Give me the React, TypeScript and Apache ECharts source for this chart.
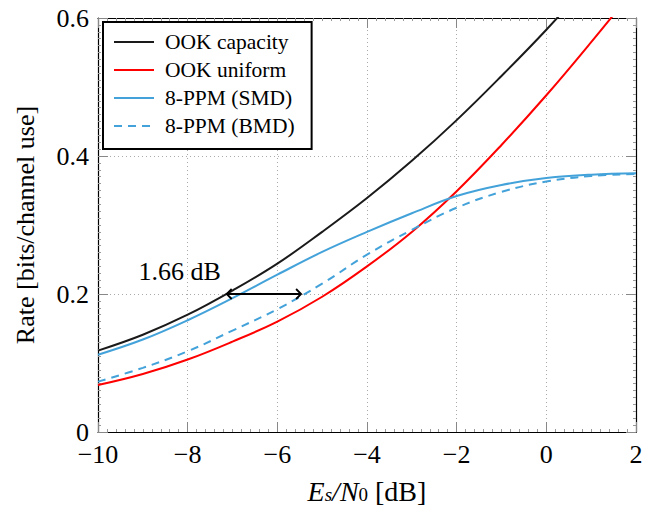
import React, { useEffect, useRef } from "react";
import * as echarts from "echarts";

// x positions (Es/N0 in dB)
const snrDb = [-10, -9, -8, -7, -6, -5, -4, -3, -2, -1, 0, 1, 2];
// series values (bits/channel use)
const ookCapacity = [0.118, 0.141, 0.17, 0.205, 0.244, 0.29, 0.339, 0.393, 0.452, 0.516, 0.583, 0.655, 0.73];
const ookUniform = [0.068, 0.084, 0.105, 0.131, 0.16, 0.196, 0.24, 0.29, 0.349, 0.416, 0.488, 0.565, 0.645];
const ppmSmd = [0.112, 0.134, 0.162, 0.194, 0.228, 0.261, 0.29, 0.317, 0.342, 0.358, 0.368, 0.373, 0.375];
const ppmBmd = [0.073, 0.093, 0.117, 0.147, 0.178, 0.215, 0.257, 0.293, 0.325, 0.348, 0.363, 0.371, 0.374];
const seriesNames = ["OOK capacity", "OOK uniform", "8-PPM (SMD)", "8-PPM (BMD)"];
const yTicks = [0, 0.2, 0.4, 0.6];
// annotation: arrow from, arrow level, arrow to, label x, label y
const gapArrow = [[-7.13, 0.2, -5.47, -8.18, 0.232]];
const gapLabel = "1.66 dB";

const FONT = "Liberation Serif";

const fmtX = (v: number) => (v < 0 ? "\u2212" + Math.abs(v) : String(v));

export default function App() {
  const ref = useRef<HTMLDivElement>(null);
  useEffect(() => {
    if (!ref.current) return;
    const chart = echarts.init(ref.current, undefined, { renderer: "svg" });
    const pair = (ys: number[]) => snrDb.map((x, i) => [x, ys[i]]);
    const axisLine = { show: true, onZero: false, lineStyle: { color: "#000", width: 1.2 } };
    const axisTick = { show: true, inside: true, length: 10, lineStyle: { color: "#888", width: 1 } };
    const minorTick = { show: true, length: 3, lineStyle: { color: "#999", width: 1 } };
    const gridLine = { show: true, lineStyle: { color: "#aaa", type: [1, 3], width: 1 } };
    const lineSeries = (name: string, ys: number[], color: string, dashed = false) => ({
      name,
      type: "line",
      data: pair(ys),
      smooth: 0.4,
      symbol: "none",
      clip: true,
      lineStyle: { color, width: 2, type: dashed ? [8, 6] : "solid" },
      itemStyle: { color },
    });
    const option: any = {
      animation: false,
      backgroundColor: "#fff",
      grid: { left: 98, right: 21, top: 18, bottom: 74, containLabel: false, outerBoundsMode: "none" },
      legend: {
        data: seriesNames,
        orient: "vertical",
        left: 103,
        top: 22,
        backgroundColor: "#fff",
        borderColor: "#000",
        borderWidth: 2,
        borderRadius: 0,
        padding: [9, 17, 12, 10],
        itemWidth: 40,
        itemHeight: 14,
        itemGap: 6,
        itemStyle: { opacity: 0 },
        textStyle: { fontFamily: FONT, fontSize: 21.5, color: "#000", lineHeight: 22, padding: [0, 0, 0, 6] },
      },
      xAxis: [
        {
          type: "value",
          min: -10,
          max: 2,
          interval: 2,
          position: "bottom",
          axisLine,
          axisTick,
          minorTick: { ...minorTick, splitNumber: 10 },
          splitLine: gridLine,
          axisLabel: { formatter: fmtX, fontFamily: FONT, fontSize: 26, lineHeight: 20, color: "#000", margin: 12 },
          name: "{i|E}{si|s}{i|/N}{s|0}{n| [dB]}",
          nameLocation: "middle",
          nameGap: 46,
          nameTextStyle: {
            fontFamily: FONT,
            color: "#000",
            rich: {
              i: { fontFamily: FONT, fontStyle: "italic", fontSize: 28, lineHeight: 26, color: "#000" },
              n: { fontFamily: FONT, fontSize: 28, lineHeight: 26, color: "#000" },
              si: { fontFamily: FONT, fontStyle: "italic", fontSize: 19, lineHeight: 13, verticalAlign: "bottom", color: "#000" },
              s: { fontFamily: FONT, fontSize: 19, lineHeight: 13, verticalAlign: "bottom", color: "#000" },
            },
          },
        },
        {
          type: "value",
          min: -10,
          max: 2,
          interval: 2,
          position: "top",
          axisLine,
          axisTick,
          minorTick: { ...minorTick, splitNumber: 10 },
          splitLine: { show: false },
          axisLabel: { show: false },
        },
      ],
      yAxis: [
        {
          type: "value",
          min: 0,
          max: 0.6,
          interval: 0.2,
          position: "left",
          axisLine,
          axisTick,
          minorTick: { ...minorTick, splitNumber: 20 },
          splitLine: gridLine,
          axisLabel: {
            fontFamily: FONT,
            fontSize: 26,
            lineHeight: 18,
            color: "#000",
            margin: 9,
            formatter: (v: number) => {
              const t = yTicks.find((k) => Math.abs(k - v) < 1e-9);
              return t === 0 ? "0" : String(+v.toFixed(1));
            },
          },
          name: "Rate [bits/channel use]",
          nameLocation: "middle",
          nameGap: 60,
          nameTextStyle: { fontFamily: FONT, fontSize: 26, color: "#000" },
        },
        {
          type: "value",
          min: 0,
          max: 0.6,
          interval: 0.2,
          position: "right",
          axisLine,
          axisTick,
          minorTick: { ...minorTick, splitNumber: 20 },
          splitLine: { show: false },
          axisLabel: { show: false },
        },
      ],
      series: [
        lineSeries(seriesNames[0], ookCapacity, "#1a1a1a"),
        lineSeries(seriesNames[1], ookUniform, "#ff0000"),
        lineSeries(seriesNames[2], ppmSmd, "#43a2d9"),
        lineSeries(seriesNames[3], ppmBmd, "#43a2d9", true),
        {
          type: "custom",
          data: gapArrow,
          silent: true,
          z: 10,
          encode: { x: [0, 2, 3], y: [1, 4] },
          renderItem: (params: any, api: any) => {
            const a = api.coord([api.value(0), api.value(1)]);
            const b = api.coord([api.value(2), api.value(1)]);
            const t = api.coord([api.value(3), api.value(4)]);
            const h = 5;
            const stroke = { stroke: "#000", lineWidth: 1.8, fill: "none" };
            return {
              type: "group",
              children: [
                { type: "line", shape: { x1: a[0] + 1, y1: a[1], x2: b[0] - 1, y2: b[1] }, style: stroke },
                { type: "polyline", shape: { points: [[a[0] + h, a[1] - h], [a[0], a[1]], [a[0] + h, a[1] + h]] }, style: stroke },
                { type: "polyline", shape: { points: [[b[0] - h, b[1] - h], [b[0], b[1]], [b[0] - h, b[1] + h]] }, style: stroke },
                {
                  type: "text",
                  x: t[0],
                  y: t[1],
                  style: { text: gapLabel, fontFamily: FONT, fontSize: 26, fill: "#000", align: "center", verticalAlign: "middle" },
                },
              ],
            };
          },
        },
      ],
    };
    chart.setOption(option);
    return () => chart.dispose();
  }, []);
  return <div ref={ref} style={{ width: 657, height: 506, position: "absolute", left: 0, top: 0 }} />;
}
